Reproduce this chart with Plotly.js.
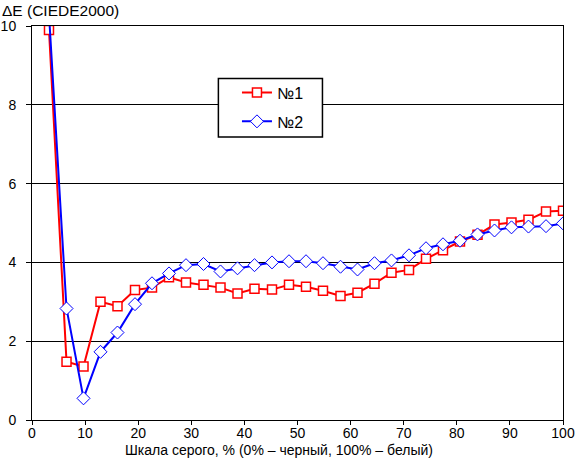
<!DOCTYPE html>
<html>
<head>
<meta charset="utf-8">
<script src="https://cdn.plot.ly/plotly-3.0.1.min.js"></script>
<style>html,body{margin:0;padding:0;background:#fff;}#chart{width:575px;height:467px;}</style>
</head>
<body>
<div id="chart"></div>
<script>
// Gray level, %
const grayLevels = [3.2, 6.5, 9.7, 12.9, 16.1, 19.4, 22.6, 25.8, 29.0, 32.3, 35.5, 38.7, 41.9, 45.2, 48.4, 51.6, 54.8, 58.1, 61.3, 64.5, 67.7, 71.0, 74.2, 77.4, 80.6, 83.9, 87.1, 90.3, 93.5, 96.8, 100];
const series1Name = "№1";
const series1 = [9.9, 1.48, 1.36, 3.0, 2.89, 3.30, 3.36, 3.62, 3.49, 3.43, 3.36, 3.21, 3.33, 3.31, 3.43, 3.38, 3.28, 3.15, 3.23, 3.46, 3.74, 3.81, 4.09, 4.31, 4.53, 4.70, 4.96, 5.01, 5.08, 5.29, 5.31];
const series2Name = "№2";
const series2 = [10.3, 2.83, 0.55, 1.73, 2.22, 2.94, 3.47, 3.72, 3.93, 3.96, 3.77, 3.85, 3.93, 4.0, 4.03, 4.03, 3.98, 3.89, 3.82, 3.98, 4.05, 4.18, 4.36, 4.46, 4.55, 4.71, 4.81, 4.89, 4.91, 4.92, 4.99];
const xTicks = [0, 10, 20, 30, 40, 50, 60, 70, 80, 90, 100];
const yTicks = [0, 2, 4, 6, 8, 10];
const xTitle = "Шкала серого, % (0% – черный, 100% – белый)";
const yTitle = "ΔE (CIEDE2000)";

const FONT = "Liberation Sans, Arial, sans-serif";

const traces = [
  {
    x: grayLevels, y: series1, name: series1Name, type: "scatter", mode: "lines+markers",
    legendgroup: "a",
    line: {color: "#ff0000", width: 2},
    marker: {symbol: "square", size: 9, color: "#ffffff", line: {color: "#ff0000", width: 1.5}}
  },
  {
    x: grayLevels, y: series2, name: series2Name, type: "scatter", mode: "lines+markers",
    legendgroup: "b",
    line: {color: "#0000ff", width: 2},
    marker: {symbol: "diamond", size: 10, color: "#ffffff", line: {color: "#0000ff", width: 1}}
  }
];

const layout = {
  width: 575, height: 467,
  margin: {l: 32, r: 12, t: 26, b: 47, pad: 0},
  paper_bgcolor: "#ffffff", plot_bgcolor: "#ffffff",
  font: {family: FONT, size: 14, color: "#000000"},
  showlegend: true,
  legend: {
    x: 0.386, y: 0.874, xanchor: "left", yanchor: "top",
    bgcolor: "rgba(0,0,0,0)", borderwidth: 0,
    font: {family: FONT, size: 16, color: "#000000"},
    itemwidth: 30, tracegroupgap: 5
  },
  shapes: [
    {type: "rect", xref: "paper", yref: "paper", x0: 0.351, x1: 0.547, y0: 0.718, y1: 0.867,
     fillcolor: "#ffffff", line: {color: "#000000", width: 1.5}, layer: "above"}
  ],
  xaxis: {
    range: [0, 100], tickvals: xTicks, ticktext: xTicks.map(String),
    showgrid: false, zeroline: false,
    showline: true, linecolor: "#000000", linewidth: 1, mirror: true,
    ticks: "outside", ticklen: 4, tickcolor: "#000000", tickwidth: 1,
    ticklabelstandoff: -4,
    tickfont: {family: FONT, size: 14, color: "#000000"}
  },
  yaxis: {
    range: [0, 10], tickvals: yTicks, ticktext: yTicks.map(String),
    showgrid: true, gridcolor: "#000000", gridwidth: 1, zeroline: false,
    showline: true, linecolor: "#000000", linewidth: 1, mirror: true,
    ticks: "outside", ticklen: 5, tickcolor: "#000000", tickwidth: 1,
    ticklabelstandoff: 7,
    tickfont: {family: FONT, size: 14, color: "#000000"}
  },
  annotations: [
    {text: xTitle, xref: "paper", yref: "paper", x: 0.4655, y: -0.05, xanchor: "center", yanchor: "top",
     showarrow: false, font: {family: FONT, size: 14, color: "#000000"}},
    {text: yTitle, xref: "paper", yref: "paper", x: -0.061, y: 1.066, xanchor: "left", yanchor: "top",
     showarrow: false, font: {family: FONT, size: 15.5, color: "#000000"}}
  ]
};

Plotly.newPlot("chart", traces, layout, {displayModeBar: false, staticPlot: true});
</script>
</body>
</html>
